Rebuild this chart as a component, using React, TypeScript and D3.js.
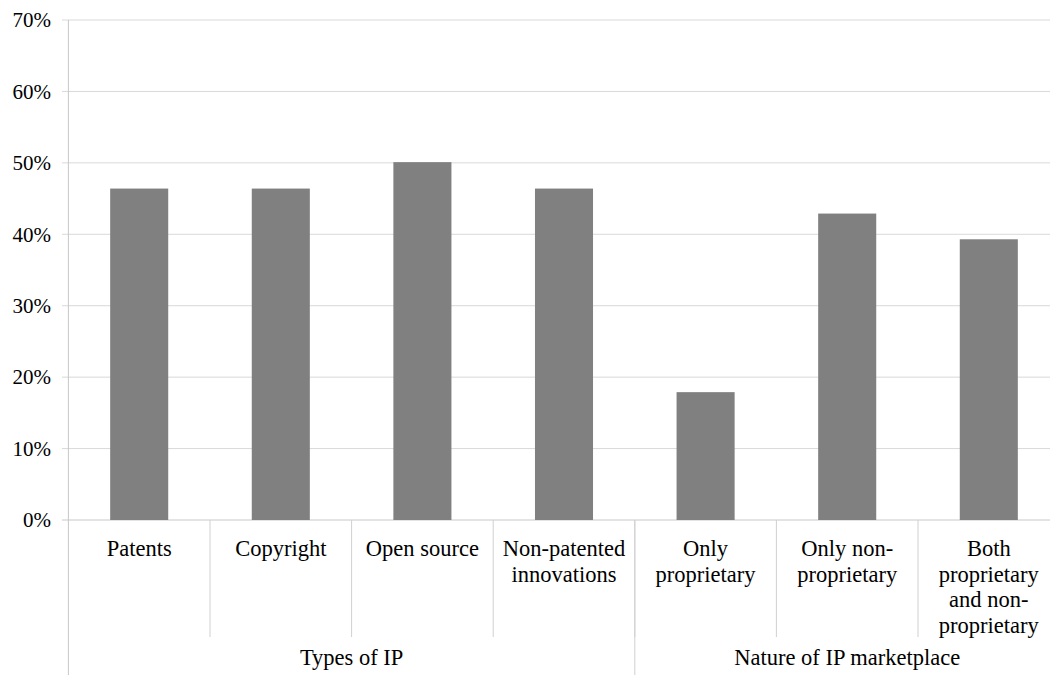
import React from "react";
import * as d3 from "d3";

const categories = ["Patents", "Copyright", "Open source", "Non-patented innovations", "Only proprietary", "Only non-proprietary", "Both proprietary and non-proprietary"];
const categoryLines = [["Patents"], ["Copyright"], ["Open source"], ["Non-patented", "innovations"], ["Only", "proprietary"], ["Only non-", "proprietary"], ["Both", "proprietary", "and non-", "proprietary"]];
const values = [0.464, 0.464, 0.501, 0.464, 0.179, 0.429, 0.393];
const groups = ["Types of IP", "Nature of IP marketplace"];
const groupSizes = [4, 3];
const yTicks = [0, 0.1, 0.2, 0.3, 0.4, 0.5, 0.6, 0.7];

export default function App() {
  const W = 1050, H = 675;
  const left = 68.4, right = 1059.6, top = 20, bottom = 520;
  const x = d3.scaleBand<string>().domain(categories).range([left, right]).paddingInner(0).paddingOuter(0);
  const y = d3.scaleLinear().domain([0, 0.7]).range([bottom, top]);
  const bw = x.bandwidth();
  const barW = bw * 0.41;
  const fmt = d3.format(".0%");
  const ff = "\"Liberation Serif\", \"Times New Roman\", serif";
  const tickStyle = { fontFamily: ff, fontSize: "21px" };
  const labelStyle = { fontFamily: ff, fontSize: "22.5px" };

  let idx = 0;
  const groupSpans = groupSizes.map((n, gi) => {
    const start = x(categories[idx])!;
    const end = x(categories[idx + n - 1])! + bw;
    idx += n;
    return { name: groups[gi], start, end };
  });

  return (
    <svg width={W} height={H} style={{ position: "absolute", left: 0, top: 0, background: "#fff" }}>
      {yTicks.map((t) => (
        <g key={t}>
          <line x1={62} x2={right} y1={y(t)} y2={y(t)} stroke={t === 0 ? "#c8c8c8" : "#d9d9d9"} strokeWidth={1} />
          <text x={51} y={y(t)} dy="0.35em" textAnchor="end" style={tickStyle} fill="#000">{fmt(t)}</text>
        </g>
      ))}
      {categories.map((c, i) => (
        <rect key={c} x={x(c)! + (bw - barW) / 2} y={y(values[i])} width={barW} height={y(0) - y(values[i])} fill="#808080" />
      ))}
      <line x1={left} x2={left} y1={top} y2={H} stroke="#c8c8c8" strokeWidth={1} />
      {categories.map((c, i) => i > 0 ? (
        <line key={"d" + c} x1={x(c)!} x2={x(c)!} y1={bottom} y2={637} stroke="#d0d0d0" strokeWidth={1} />
      ) : null)}
      {groupSpans.map((g, i) => i > 0 ? (
        <line key={"g" + g.name} x1={g.start} x2={g.start} y1={bottom} y2={H} stroke="#d0d0d0" strokeWidth={1} />
      ) : null)}
      {categories.map((c, i) => (
        <text key={"t" + c} textAnchor="middle" style={labelStyle} fill="#000">
          {categoryLines[i].map((l, j) => (
            <tspan key={j} x={x(c)! + bw / 2} y={556 + j * 25.7}>{l}</tspan>
          ))}
        </text>
      ))}
      {groupSpans.map((g) => (
        <text key={"gl" + g.name} x={(g.start + g.end) / 2} y={665} textAnchor="middle" style={labelStyle} fill="#000">{g.name}</text>
      ))}
    </svg>
  );
}
